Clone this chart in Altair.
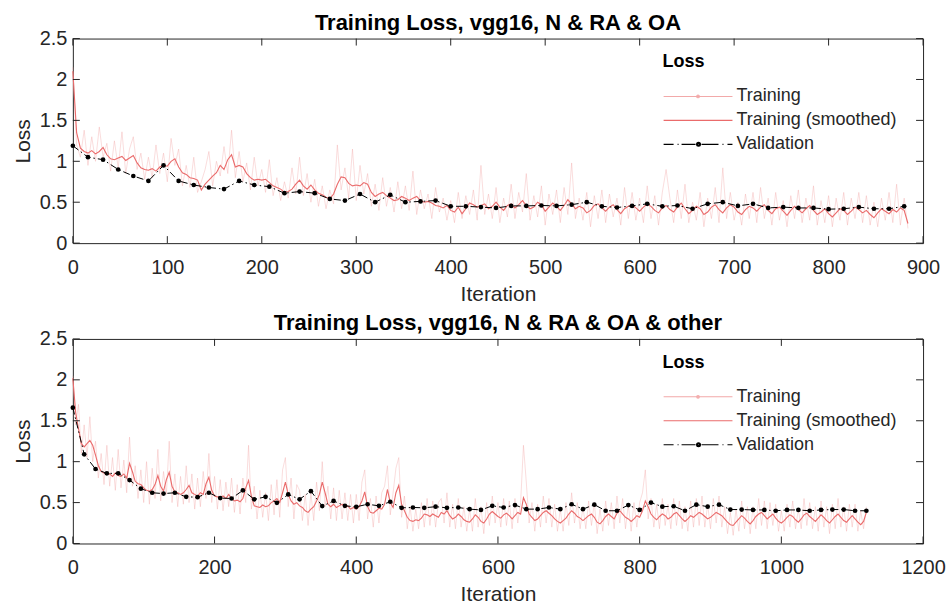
import altair as alt
import pandas as pd

FONT = "Liberation Sans"
TRAIN_STEP = 4      # iterations between stored training samples
VAL_STEP = 16       # iterations between validation checks

# ---------------- panel 1: N & RA & OA ----------------
top_title = "Training Loss, vgg16, N & RA & OA"
top_xticks = [0, 100, 200, 300, 400, 500, 600, 700, 800, 900]
top_xmax = 900
top_raw = [
    2.15, 1.20, 1.05, 1.38, 0.95, 1.30, 1.00, 1.42, 1.05, 1.22,
    0.88, 1.25, 0.92, 1.36, 0.85, 1.15, 1.30, 0.90, 1.10, 0.78,
    1.05, 0.80, 1.20, 0.85, 1.10, 0.75, 1.28, 0.95, 1.15, 0.70,
    0.95, 0.68, 1.05, 0.62, 0.75, 0.90, 1.12, 0.70, 1.00, 0.82,
    1.18, 0.85, 1.38, 0.80, 1.12, 0.75, 0.98, 0.65, 1.05, 0.70,
    0.90, 0.62, 1.02, 0.58, 0.80, 0.52, 0.75, 0.55, 0.92, 0.60,
    1.05, 0.58, 0.85, 0.50, 0.78, 0.45, 0.70, 0.42, 0.65, 0.48,
    1.20, 0.65, 0.92, 0.55, 1.15, 0.52, 0.95, 0.60, 0.85, 0.45,
    0.72, 0.40, 0.80, 0.45, 0.68, 0.38, 0.75, 0.42, 0.70, 0.40,
    0.88, 0.35, 0.65, 0.42, 0.60, 0.30, 0.68, 0.38, 0.55, 0.28,
    0.52, 0.25, 0.62, 0.30, 0.58, 0.35, 0.65, 0.28, 0.95, 0.35,
    0.60, 0.30, 0.68, 0.25, 0.55, 0.32, 0.72, 0.30, 0.62, 0.38,
    0.85, 0.28, 0.58, 0.32, 0.70, 0.22, 0.60, 0.35, 0.65, 0.25,
    0.68, 0.35, 0.98, 0.30, 0.55, 0.28, 0.62, 0.20, 0.58, 0.30,
    0.65, 0.25, 0.60, 0.32, 0.55, 0.22, 0.68, 0.30, 0.62, 0.28,
    0.55, 0.25, 0.70, 0.30, 0.58, 0.22, 0.62, 0.90, 0.55, 0.25,
    0.65, 0.30, 0.72, 0.25, 0.50, 0.28, 0.62, 0.20, 0.55, 0.30,
    0.68, 0.25, 0.92, 0.30, 0.62, 0.28, 0.50, 0.22, 0.60, 0.30,
    0.62, 0.25, 0.68, 0.30, 0.55, 0.22, 0.62, 0.28, 0.52, 0.20,
    0.58, 0.30, 0.65, 0.25, 0.55, 0.28, 0.70, 0.22, 0.52, 0.25,
    0.58, 0.20, 0.55, 0.28, 0.62, 0.22, 0.55, 0.30, 0.62, 0.25,
    0.58, 0.22, 0.50, 0.20, 0.55, 0.28, 0.62, 0.25, 0.72, 0.22,
    0.55, 0.18,
]
top_smooth = [
    2.10, 1.35, 1.16, 1.12, 1.10, 1.13, 1.09, 1.12, 1.17, 1.08,
    1.03, 1.02, 1.04, 1.06, 1.01, 1.04, 1.07, 0.98, 0.92, 0.90,
    0.89, 0.91, 0.88, 0.93, 0.95, 0.94, 1.00, 1.03, 0.93, 0.86,
    0.84, 0.80, 0.79, 0.77, 0.65, 0.72, 0.77, 0.82, 0.86, 0.95,
    0.90, 1.02, 1.08, 0.93, 0.95, 0.93, 0.85, 0.80, 0.77, 0.78,
    0.77, 0.78, 0.74, 0.70, 0.68, 0.66, 0.62, 0.63, 0.66, 0.72,
    0.77, 0.70, 0.66, 0.71, 0.65, 0.61, 0.59, 0.56, 0.54, 0.60,
    0.72, 0.81, 0.80, 0.73, 0.70, 0.71, 0.70, 0.74, 0.72, 0.62,
    0.57, 0.60, 0.62, 0.58, 0.55, 0.52, 0.53, 0.57, 0.55, 0.52,
    0.55, 0.57, 0.52, 0.50, 0.51, 0.49, 0.46, 0.45, 0.43, 0.46,
    0.40, 0.38, 0.44, 0.36, 0.42, 0.49, 0.47, 0.44, 0.46, 0.48,
    0.42, 0.45, 0.50, 0.44, 0.40, 0.46, 0.48, 0.43, 0.47, 0.52,
    0.46, 0.42, 0.44, 0.50, 0.47, 0.39, 0.44, 0.49, 0.45, 0.40,
    0.46, 0.53, 0.48, 0.42, 0.45, 0.43, 0.37, 0.40, 0.46, 0.48,
    0.43, 0.39, 0.44, 0.47, 0.41, 0.36, 0.42, 0.45, 0.47, 0.43,
    0.39, 0.44, 0.48, 0.45, 0.40, 0.37, 0.43, 0.46, 0.41, 0.38,
    0.44, 0.49, 0.42, 0.36, 0.40, 0.45, 0.42, 0.35, 0.38, 0.44,
    0.47, 0.41, 0.37, 0.43, 0.47, 0.44, 0.38, 0.35, 0.41, 0.45,
    0.43, 0.39, 0.44, 0.47, 0.40, 0.36, 0.42, 0.44, 0.39, 0.34,
    0.40, 0.45, 0.41, 0.37, 0.42, 0.46, 0.40, 0.35, 0.38, 0.42,
    0.36, 0.32, 0.37, 0.42, 0.40, 0.35, 0.39, 0.44, 0.41, 0.37,
    0.40, 0.35, 0.31, 0.37, 0.42, 0.39, 0.36, 0.41, 0.38, 0.43,
    0.40, 0.24,
]
top_val = [
    1.19, 1.05, 1.02, 0.90, 0.82, 0.76, 0.95, 0.76, 0.71, 0.68,
    0.66, 0.76, 0.71, 0.69, 0.61, 0.63, 0.61, 0.54, 0.52, 0.60,
    0.50, 0.59, 0.50, 0.51, 0.52, 0.45, 0.45, 0.44, 0.43, 0.455,
    0.455, 0.46, 0.455, 0.47, 0.50, 0.45, 0.435, 0.455, 0.48, 0.45,
    0.46, 0.42, 0.48, 0.50, 0.455, 0.48, 0.43, 0.44, 0.43, 0.43,
    0.415, 0.42, 0.44, 0.42, 0.42, 0.45,
]

# ---------------- panel 2: N & RA & OA & other ----------------
bot_title = "Training Loss, vgg16, N & RA & OA & other"
bot_xticks = [0, 200, 400, 600, 800, 1000, 1200]
bot_xmax = 1200
bot_raw = [
    2.05, 1.45, 1.70, 1.10, 1.45, 1.05, 1.55, 1.00, 1.25, 0.80,
    1.10, 0.72, 1.20, 0.70, 1.05, 0.65, 1.15, 0.68, 1.02, 0.62,
    1.30, 0.70, 0.95, 0.55, 0.90, 0.50, 1.00, 0.48, 0.92, 0.55,
    1.15, 0.52, 0.88, 0.60, 1.25, 0.50, 0.85, 0.45, 0.82, 0.48,
    0.95, 0.50, 0.85, 0.42, 0.80, 0.45, 0.88, 0.55, 1.10, 0.50,
    0.82, 0.42, 0.78, 0.40, 0.75, 0.45, 0.80, 0.38, 0.72, 0.36,
    0.80, 0.50, 1.20, 0.42, 0.70, 0.30, 0.65, 0.32, 0.62, 0.28,
    0.72, 0.35, 0.78, 0.32, 0.90, 1.05, 0.45, 0.80, 0.30, 0.72,
    0.65, 0.28, 0.60, 0.22, 0.62, 0.28, 0.75, 0.40, 1.00, 0.45,
    0.70, 0.30, 0.68, 0.28, 0.65, 0.30, 0.62, 0.28, 0.60, 0.25,
    0.60, 0.28, 0.75, 0.90, 0.30, 0.55, 0.20, 0.58, 0.25, 0.62,
    0.70, 0.95, 0.35, 0.62, 0.92, 1.05, 0.32, 0.58, 0.18, 0.45,
    0.15, 0.42, 0.18, 0.50, 0.20, 0.55, 0.22, 0.52, 0.20, 0.50,
    0.55, 0.25, 0.62, 0.20, 0.48, 0.18, 0.55, 0.20, 0.45, 0.15,
    0.42, 0.15, 0.55, 0.20, 0.45, 0.12, 0.50, 0.22, 0.58, 0.25,
    0.50, 0.20, 0.55, 0.22, 0.52, 0.18, 0.55, 0.25, 0.50, 1.20,
    0.75, 0.25, 0.50, 0.15, 0.48, 0.20, 0.58, 0.25, 0.55, 0.20,
    0.48, 0.15, 0.42, 0.15, 0.50, 0.22, 0.62, 0.25, 0.50, 0.18,
    0.45, 0.18, 0.52, 0.22, 0.50, 0.12, 0.42, 0.15, 0.52, 0.22,
    0.50, 0.18, 0.58, 0.25, 0.55, 0.18, 0.48, 0.15, 0.50, 0.20,
    0.50, 0.62, 0.90, 0.30, 0.55, 0.20, 0.48, 0.18, 0.55, 0.22,
    0.48, 0.18, 0.55, 0.22, 0.52, 0.18, 0.45, 0.15, 0.52, 0.20,
    0.55, 0.22, 0.58, 0.20, 0.48, 0.18, 0.55, 0.25, 0.58, 0.20,
    0.45, 0.12, 0.38, 0.10, 0.42, 0.15, 0.52, 0.18, 0.45, 0.12,
    0.45, 0.18, 0.55, 0.22, 0.52, 0.18, 0.50, 0.22, 0.48, 0.15,
    0.40, 0.15, 0.48, 0.20, 0.52, 0.18, 0.42, 0.18, 0.55, 0.22,
    0.50, 0.18, 0.45, 0.15, 0.52, 0.20, 0.45, 0.12, 0.48, 0.18,
    0.55, 0.20, 0.45, 0.15, 0.48, 0.20, 0.48, 0.15, 0.40, 0.18,
    0.45,
]
bot_smooth = [
    2.02, 1.60, 1.40, 1.22, 1.18, 1.22, 1.26, 1.20, 1.08, 0.95,
    0.88, 0.86, 0.84, 0.85, 0.82, 0.86, 0.83, 0.82, 0.85, 0.80,
    0.98, 0.88, 0.76, 0.73, 0.72, 0.68, 0.65, 0.64, 0.66, 0.72,
    0.83, 0.70, 0.64, 0.78, 0.87, 0.70, 0.63, 0.62, 0.60, 0.62,
    0.66, 0.71, 0.62, 0.60, 0.58, 0.62, 0.60, 0.73, 0.81, 0.65,
    0.58, 0.57, 0.56, 0.58, 0.55, 0.60, 0.55, 0.52, 0.53, 0.51,
    0.55, 0.68, 0.77, 0.58, 0.46, 0.45, 0.44, 0.47, 0.45, 0.46,
    0.50, 0.52, 0.55, 0.50, 0.62, 0.75, 0.60, 0.52, 0.48, 0.50,
    0.46, 0.44, 0.40, 0.38, 0.42, 0.45, 0.52, 0.60, 0.75, 0.62,
    0.48, 0.45, 0.48, 0.44, 0.46, 0.48, 0.44, 0.46, 0.42, 0.44,
    0.42, 0.45, 0.52, 0.63, 0.45, 0.38, 0.37, 0.40, 0.43, 0.42,
    0.48, 0.66, 0.50, 0.44, 0.62, 0.71, 0.48, 0.40, 0.32, 0.28,
    0.27, 0.29, 0.28, 0.31, 0.36, 0.35, 0.33, 0.36, 0.34, 0.32,
    0.38, 0.36, 0.40, 0.34, 0.30, 0.32, 0.36, 0.33, 0.29, 0.27,
    0.26, 0.30, 0.35, 0.32, 0.27, 0.25, 0.30, 0.36, 0.39, 0.36,
    0.33, 0.31, 0.35, 0.37, 0.34, 0.30, 0.34, 0.38, 0.36, 0.56,
    0.48, 0.36, 0.32, 0.28, 0.30, 0.34, 0.38, 0.40, 0.37, 0.34,
    0.30, 0.27, 0.25, 0.28, 0.31, 0.36, 0.40, 0.37, 0.33, 0.31,
    0.28, 0.31, 0.34, 0.36, 0.32, 0.26, 0.24, 0.28, 0.33, 0.36,
    0.33, 0.30, 0.37, 0.40, 0.36, 0.32, 0.30, 0.27, 0.30, 0.34,
    0.32, 0.40, 0.52, 0.45, 0.36, 0.32, 0.29, 0.33, 0.36, 0.34,
    0.30, 0.32, 0.36, 0.38, 0.34, 0.30, 0.27, 0.30, 0.34, 0.32,
    0.35, 0.38, 0.36, 0.33, 0.30, 0.32, 0.35, 0.38, 0.36, 0.34,
    0.30, 0.26, 0.23, 0.22, 0.26, 0.30, 0.34, 0.31, 0.27, 0.24,
    0.28, 0.33, 0.36, 0.38, 0.34, 0.30, 0.33, 0.36, 0.31, 0.27,
    0.25, 0.28, 0.32, 0.35, 0.33, 0.29, 0.26, 0.30, 0.35, 0.37,
    0.33, 0.30, 0.27, 0.31, 0.35, 0.32, 0.28, 0.25, 0.29, 0.33,
    0.36, 0.32, 0.28, 0.26, 0.30, 0.34, 0.30, 0.26, 0.23, 0.27,
    0.38,
]
bot_val = [
    1.66, 1.09, 0.91, 0.857, 0.857, 0.775, 0.67, 0.62, 0.61, 0.62,
    0.57, 0.566, 0.62, 0.555, 0.55, 0.65, 0.54, 0.57, 0.497, 0.60,
    0.54, 0.64, 0.457, 0.52, 0.46, 0.448, 0.48, 0.46, 0.51, 0.436,
    0.44, 0.436, 0.45, 0.436, 0.44, 0.42, 0.41, 0.46, 0.44, 0.47,
    0.42, 0.42, 0.44, 0.42, 0.48, 0.42, 0.475, 0.40, 0.40, 0.47,
    0.41, 0.50, 0.45, 0.455, 0.40, 0.475, 0.45, 0.475, 0.415, 0.415,
    0.41, 0.41, 0.40, 0.41, 0.41, 0.40, 0.41, 0.415, 0.415, 0.40,
    0.40,
]

yticks = [0, 0.5, 1, 1.5, 2, 2.5]
series_names = ["Training", "Training (smoothed)", "Validation"]
series_colors = ["#f2a9a9", "#ea6b6b", "#000000"]

# legend glyphs (1 unit = sqrt(symbolSize)/2 px)
sym_line = "M-1,0H6.667"
sym_raw = ("M-1,0H6.667M2.983,0A0.15,0.15 0 1,1 2.683,0A0.15,0.15 0 1,1 2.983,0")
sym_val = ("M-1,0H0.111M0.556,0H0.667M1,0H2.556M3.222,0H5.111M5.556,0H5.667M6.111,0H6.667"
           "M3.109,0A0.22,0.22 0 1,1 2.669,0A0.22,0.22 0 1,1 3.109,0"
           "M2.989,0A0.1,0.1 0 1,1 2.789,0A0.1,0.1 0 1,1 2.989,0")
series_shapes = [sym_raw, sym_line, sym_val]

W, H = 852, 205
TICK = 7
FRAME = "#262626"


def panel(title, raw, smooth, val, xmax, xticks):
    train = pd.DataFrame({
        "iter": [i * TRAIN_STEP for i in range(len(raw))],
        "raw": raw,
        "smooth": smooth,
    })
    valid = pd.DataFrame({
        "iter": [i * VAL_STEP for i in range(len(val))],
        "loss": val,
    })
    xscale = alt.Scale(domain=[0, xmax], nice=False, zero=False)
    yscale = alt.Scale(domain=[0, 2.5], nice=False)
    xaxis = alt.Axis(values=xticks, title="Iteration", format="d")
    yaxis = alt.Axis(values=yticks, title="Loss", format="~g")

    def X(f):
        return alt.X(f, type="quantitative", scale=xscale, axis=xaxis)

    def Y(f):
        return alt.Y(f, type="quantitative", scale=yscale, axis=yaxis)

    raw_line = alt.Chart(train).mark_line(
        color=series_colors[0], strokeWidth=0.8, opacity=0.5
    ).encode(x=X("iter"), y=Y("raw"))
    smooth_line = alt.Chart(train).mark_line(
        color=series_colors[1], strokeWidth=1.1
    ).encode(x=X("iter"), y=Y("smooth"))
    val_line = alt.Chart(valid).mark_line(
        color="#000000", strokeWidth=1, strokeDash=[7, 3, 1.5, 3]
    ).encode(x=X("iter"), y=Y("loss"))
    val_pts = alt.Chart(valid).mark_circle(
        color="#000000", size=22, opacity=1
    ).encode(x=X("iter"), y=Y("loss"))

    xt = pd.DataFrame({"t": xticks})
    yt = pd.DataFrame({"t": yticks})
    rule = dict(color=FRAME, strokeWidth=1)
    xt_bot = alt.Chart(xt).mark_rule(**rule).encode(
        x=X("t"), y=alt.value(H), y2=alt.value(H - TICK))
    xt_top = alt.Chart(xt).mark_rule(**rule).encode(
        x=X("t"), y=alt.value(0), y2=alt.value(TICK))
    yt_left = alt.Chart(yt).mark_rule(**rule).encode(
        y=Y("t"), x=alt.value(0), x2=alt.value(TICK))
    yt_right = alt.Chart(yt).mark_rule(**rule).encode(
        y=Y("t"), x=alt.value(W - TICK), x2=alt.value(W))

    leg_df = pd.DataFrame({"series": series_names,
                           "iter": [0, 0, 0], "loss": [0, 0, 0]})
    legend = alt.Legend(
        title="Loss", orient="none", legendX=591, legendY=15,
        titleFont=FONT, titleFontSize=18, titleFontWeight="bold",
        titleColor="#000000", titlePadding=15,
        labelFont=FONT, labelFontSize=18, labelColor="#262626",
        labelLimit=400, labelOffset=54,
        symbolSize=324, symbolStrokeWidth=1.1, symbolOpacity=1,
        rowPadding=5, padding=0, direction="vertical",
    )
    leg = alt.Chart(leg_df).mark_point(opacity=0, filled=False).encode(
        x=X("iter"), y=Y("loss"),
        color=alt.Color("series:N",
                        scale=alt.Scale(domain=series_names, range=series_colors),
                        legend=legend),
        shape=alt.Shape("series:N",
                        scale=alt.Scale(domain=series_names, range=series_shapes),
                        legend=legend),
    )

    return alt.layer(
        raw_line, smooth_line, val_line, val_pts,
        xt_bot, xt_top, yt_left, yt_right, leg,
    ).properties(
        width=W, height=H,
        title=alt.TitleParams(title),
    )


top = panel(top_title, top_raw, top_smooth, top_val, top_xmax, top_xticks)
bot = panel(bot_title, bot_raw, bot_smooth, bot_val, bot_xmax, bot_xticks)

chart = alt.vconcat(top, bot, spacing=6).resolve_scale(
    x="independent", color="independent", shape="independent"
).resolve_legend(
    color="independent", shape="independent"
).properties(
    padding={"left": 12, "top": 10, "right": 4, "bottom": 1},
    background="white",
).configure_view(
    stroke=FRAME, strokeWidth=1
).configure_axis(
    domain=False, ticks=False, tickSize=0, grid=False,
    labelFont=FONT, labelFontSize=20, labelColor="#262626",
    labelFlush=False, labelOverlap=False,
    titleFont=FONT, titleFontSize=21, titleFontWeight="normal",
    titleColor="#262626",
).configure_axisX(
    labelPadding=14, titlePadding=6.5
).configure_axisY(
    labelPadding=6, titlePadding=5.5
).configure_title(
    font=FONT, fontSize=22, fontWeight="bold", color="#000000",
    anchor="middle", frame="group", baseline="bottom", offset=-6,
)

chart.save("out.html", embed_options={"renderer": "svg", "actions": False})
